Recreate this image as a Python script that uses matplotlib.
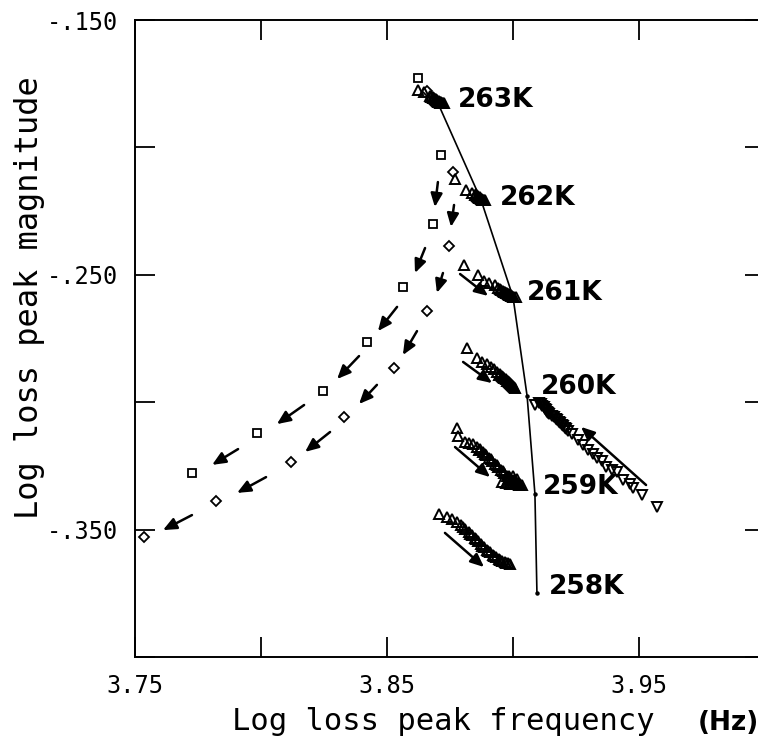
import numpy as np
import matplotlib
matplotlib.use("Agg")
import matplotlib.pyplot as plt

# main locus of peak positions
temps = ["263K", "262K", "261K", "260K", "259K", "258K"]
peak_f = [3.8702, 3.8873, 3.9000, 3.9056, 3.9087, 3.9095]
peak_m = [-0.1826, -0.2206, -0.2587, -0.2976, -0.3360, -0.3749]

# open squares
sq_f = [3.8623, 3.8714, 3.8683, 3.8563, 3.8421, 3.8246, 3.7984, 3.7726]
sq_m = [-0.1728, -0.2030, -0.2301, -0.2548, -0.2764, -0.2956, -0.3121, -0.3278]

# open diamonds
dm_f = [3.8659, 3.8762, 3.8746, 3.8659, 3.8528, 3.8329, 3.8119, 3.7821, 3.7536]
dm_m = [-0.1779, -0.2097, -0.2387, -0.2642, -0.2866, -0.3058, -0.3235, -0.3388, -0.3529]

# triangle runs (aging at each temperature)
t263_f = [3.8623, 3.8647, 3.8671, 3.8683, 3.8690, 3.8694, 3.8698, 3.8702, 3.8706, 3.8710, 3.8714, 3.8718,
          3.8675, 3.8683, 3.8687, 3.8694, 3.8698, 3.8706, 3.8710, 3.8714, 3.8722, 3.8726]
t263_m = [-0.1775, -0.1783, -0.1798, -0.1806, -0.1810, -0.1814, -0.1818, -0.1822, -0.1822, -0.1826, -0.1826,
          -0.1826, -0.1802, -0.1802, -0.1806, -0.1810, -0.1814, -0.1818, -0.1822, -0.1822, -0.1826, -0.1826]

t262_f = [3.8770, 3.8813, 3.8837, 3.8849, 3.8857, 3.8861, 3.8865, 3.8869, 3.8873, 3.8877, 3.8881,
          3.8853, 3.8861, 3.8869, 3.8877, 3.8885, 3.8889]
t262_m = [-0.2124, -0.2167, -0.2179, -0.2187, -0.2191, -0.2195, -0.2199, -0.2199, -0.2203, -0.2206, -0.2206,
          -0.2183, -0.2191, -0.2195, -0.2203, -0.2206, -0.2206]

t261_f = [3.8806, 3.8861, 3.8885, 3.8905, 3.8929, 3.8940, 3.8952, 3.8960, 3.8968, 3.8976, 3.8980, 3.8984,
          3.8988, 3.8992, 3.8996, 3.9000, 3.8948, 3.8964, 3.8972, 3.8984, 3.8992, 3.9004, 3.9012]
t261_m = [-0.2462, -0.2501, -0.2524, -0.2532, -0.2540, -0.2552, -0.2560, -0.2564, -0.2567, -0.2571, -0.2575,
          -0.2579, -0.2579, -0.2583, -0.2583, -0.2587, -0.2556, -0.2567, -0.2571, -0.2575, -0.2579, -0.2587,
          -0.2587]

t260_f = [3.8817, 3.8857, 3.8877, 3.8897, 3.8913, 3.8925, 3.8937, 3.8948, 3.8956, 3.8964, 3.8972, 3.8980,
          3.8988, 3.8992, 3.8996, 3.9000, 3.8944, 3.8960, 3.8976, 3.8984, 3.9004, 3.9008]
t260_m = [-0.2787, -0.2827, -0.2842, -0.2850, -0.2862, -0.2870, -0.2881, -0.2889, -0.2897, -0.2905, -0.2909,
          -0.2917, -0.2925, -0.2929, -0.2933, -0.2936, -0.2893, -0.2901, -0.2917, -0.2921, -0.2940, -0.2944]

t259_f = [3.8778, 3.8782, 3.8810, 3.8825, 3.8841, 3.8857, 3.8869, 3.8881, 3.8893, 3.8905, 3.8917, 3.8929,
          3.8940, 3.8952, 3.8964, 3.8976, 3.8988, 3.9000, 3.9012, 3.9020, 3.9028, 3.8956, 3.8972, 3.8988, 3.9004,
          3.8865, 3.8889, 3.8913, 3.8937, 3.8960, 3.8984, 3.9008, 3.9024, 3.9036, 3.8996, 3.8980, 3.9016, 3.9000]
t259_m = [-0.3101, -0.3133, -0.3156, -0.3160, -0.3164, -0.3176, -0.3184, -0.3195, -0.3207, -0.3219, -0.3231,
          -0.3243, -0.3254, -0.3266, -0.3278, -0.3290, -0.3297, -0.3305, -0.3313, -0.3317, -0.3321, -0.3313,
          -0.3317, -0.3321, -0.3321, -0.3188, -0.3203, -0.3223, -0.3246, -0.3270, -0.3290, -0.3305, -0.3325,
          -0.3325, -0.3321, -0.3305, -0.3301, -0.3290]

t258_f = [3.8706, 3.8738, 3.8758, 3.8778, 3.8794, 3.8810, 3.8825, 3.8837, 3.8849, 3.8861, 3.8873, 3.8885,
          3.8897, 3.8909, 3.8921, 3.8933, 3.8944, 3.8956, 3.8968, 3.8980, 3.8802, 3.8829, 3.8853, 3.8877,
          3.8901, 3.8925, 3.8948, 3.8972, 3.8988]
t258_m = [-0.3439, -0.3451, -0.3458, -0.3470, -0.3482, -0.3498, -0.3509, -0.3521, -0.3533, -0.3545, -0.3557,
          -0.3568, -0.3580, -0.3588, -0.3600, -0.3608, -0.3615, -0.3623, -0.3627, -0.3631, -0.3490, -0.3517,
          -0.3537, -0.3564, -0.3584, -0.3604, -0.3619, -0.3631, -0.3635]

# inverted triangles (approach from above)
inv_f = [3.9087, 3.9111, 3.9123, 3.9131, 3.9139, 3.9155, 3.9171, 3.9183, 3.9194, 3.9206, 3.9218, 3.9234,
         3.9258, 3.9278, 3.9298, 3.9317, 3.9333, 3.9353, 3.9369, 3.9393, 3.9413, 3.9437, 3.9464, 3.9476,
         3.9512, 3.9571, 3.9103, 3.9115, 3.9127, 3.9135, 3.9143, 3.9163, 3.9175, 3.9187, 3.9198, 3.9210]
inv_m = [-0.3011, -0.3007, -0.3019, -0.3031, -0.3042, -0.3054, -0.3066, -0.3078, -0.3089, -0.3101, -0.3113,
         -0.3125, -0.3148, -0.3168, -0.3188, -0.3203, -0.3219, -0.3231, -0.3254, -0.3266, -0.3274, -0.3305,
         -0.3321, -0.3337, -0.3364, -0.3411, -0.3003, -0.3015, -0.3027, -0.3038, -0.3046, -0.3058, -0.3070,
         -0.3082, -0.3093, -0.3105]

# arrows: tail (f, m) -> head (f, m)
arr_tail_f = [3.8702, 3.8766, 3.8651, 3.8722, 3.8540, 3.8619, 3.8389, 3.8460, 3.8171, 3.8274, 3.7909, 3.8020,
              3.7726, 3.8790, 3.8802, 3.8770, 3.8730, 3.9528]
arr_tail_m = [-0.2136, -0.2226, -0.2395, -0.2493, -0.2626, -0.2721, -0.2819, -0.2932, -0.3011, -0.3117,
              -0.3184, -0.3294, -0.3443, -0.2497, -0.2842, -0.3176, -0.3513, -0.3325]
arr_head_f = [3.8690, 3.8754, 3.8611, 3.8698, 3.8464, 3.8563, 3.8302, 3.8389, 3.8063, 3.8175, 3.7806, 3.7905,
              3.7611, 3.8901, 3.8917, 3.8909, 3.8885, 3.9270]
arr_head_m = [-0.2234, -0.2312, -0.2493, -0.2571, -0.2721, -0.2815, -0.2909, -0.3007, -0.3086, -0.3195,
              -0.3246, -0.3356, -0.3502, -0.2583, -0.2925, -0.3294, -0.3647, -0.3097]

label_f = [3.8782, 3.8948, 3.9056, 3.9111, 3.9119, 3.9143]
label_m = [-0.1814, -0.2199, -0.2571, -0.2940, -0.3333, -0.3725]

xticks = [3.75, 3.80, 3.85, 3.90, 3.95, 4.00]
xticklabels = ["3.75", "", "3.85", "", "3.95", ""]
yticks = [-0.40, -0.35, -0.30, -0.25, -0.20, -0.15]
yticklabels = ["", "-.350", "", "-.250", "", "-.150"]

W, H = 758, 744
fig = plt.figure(figsize=(W / 100, H / 100), dpi=100)
ax = fig.add_axes([135 / W, 1 - 657 / H, 630 / W, 637 / H])

ax.plot(peak_f, peak_m, '-', color='k', lw=1.2, marker='o', ms=2.2)

ax.plot(sq_f, sq_m, 's', ms=5.5, mfc='white', mec='k', mew=1.3, ls='none')
ax.plot(dm_f, dm_m, 'D', ms=5.5, mfc='white', mec='k', mew=1.3, ls='none')

for f, m in [(t263_f, t263_m), (t262_f, t262_m), (t261_f, t261_m),
             (t260_f, t260_m), (t259_f, t259_m), (t258_f, t258_m)]:
    ax.plot(f, m, '^', ms=7, mfc='none', mec='k', mew=1.4, ls='none')
ax.plot(inv_f, inv_m, 'v', ms=7, mfc='none', mec='k', mew=1.4, ls='none')

for i in range(len(arr_tail_f)):
    ax.annotate('', xy=(arr_head_f[i], arr_head_m[i]), xytext=(arr_tail_f[i], arr_tail_m[i]),
                arrowprops=dict(arrowstyle='-|>,head_length=0.8,head_width=0.35', color='k', lw=1.8,
                                shrinkA=0, shrinkB=0, mutation_scale=10))

for t, f, m in zip(temps, label_f, label_m):
    ax.text(f, m, t, fontsize=19, fontweight='bold', ha='left', va='center', family='DejaVu Sans')

ax.set_xlim(3.75, 4.00)
ax.set_ylim(-0.40, -0.15)
ax.set_xticks(xticks)
ax.set_xticklabels(xticklabels, family='DejaVu Sans Mono', fontsize=17)
ax.set_yticks(yticks)
ax.set_yticklabels(yticklabels, family='DejaVu Sans Mono', fontsize=17)
ax.tick_params(direction='in', length=14.5, width=1.3, top=True, right=True)
ax.tick_params(axis='x', pad=12)
ax.tick_params(axis='y', pad=12)
for s in ax.spines.values():
    s.set_linewidth(1.4)
ax.spines['right'].set_visible(False)

fig.text(232 / W, 1 - 730 / H, "Log loss peak frequency", family='DejaVu Sans Mono', fontsize=22,
         ha='left', va='baseline')
fig.text(698 / W, 1 - 730 / H, "(Hz)", family='DejaVu Sans', fontweight='bold', fontsize=19,
         ha='left', va='baseline')
fig.text(30 / W, 1 - 298 / H, "Log loss peak magnitude", family='DejaVu Sans Mono', fontsize=23,
         rotation=90, ha='center', va='center')

plt.savefig("out.png", dpi=100)
plt.close()
